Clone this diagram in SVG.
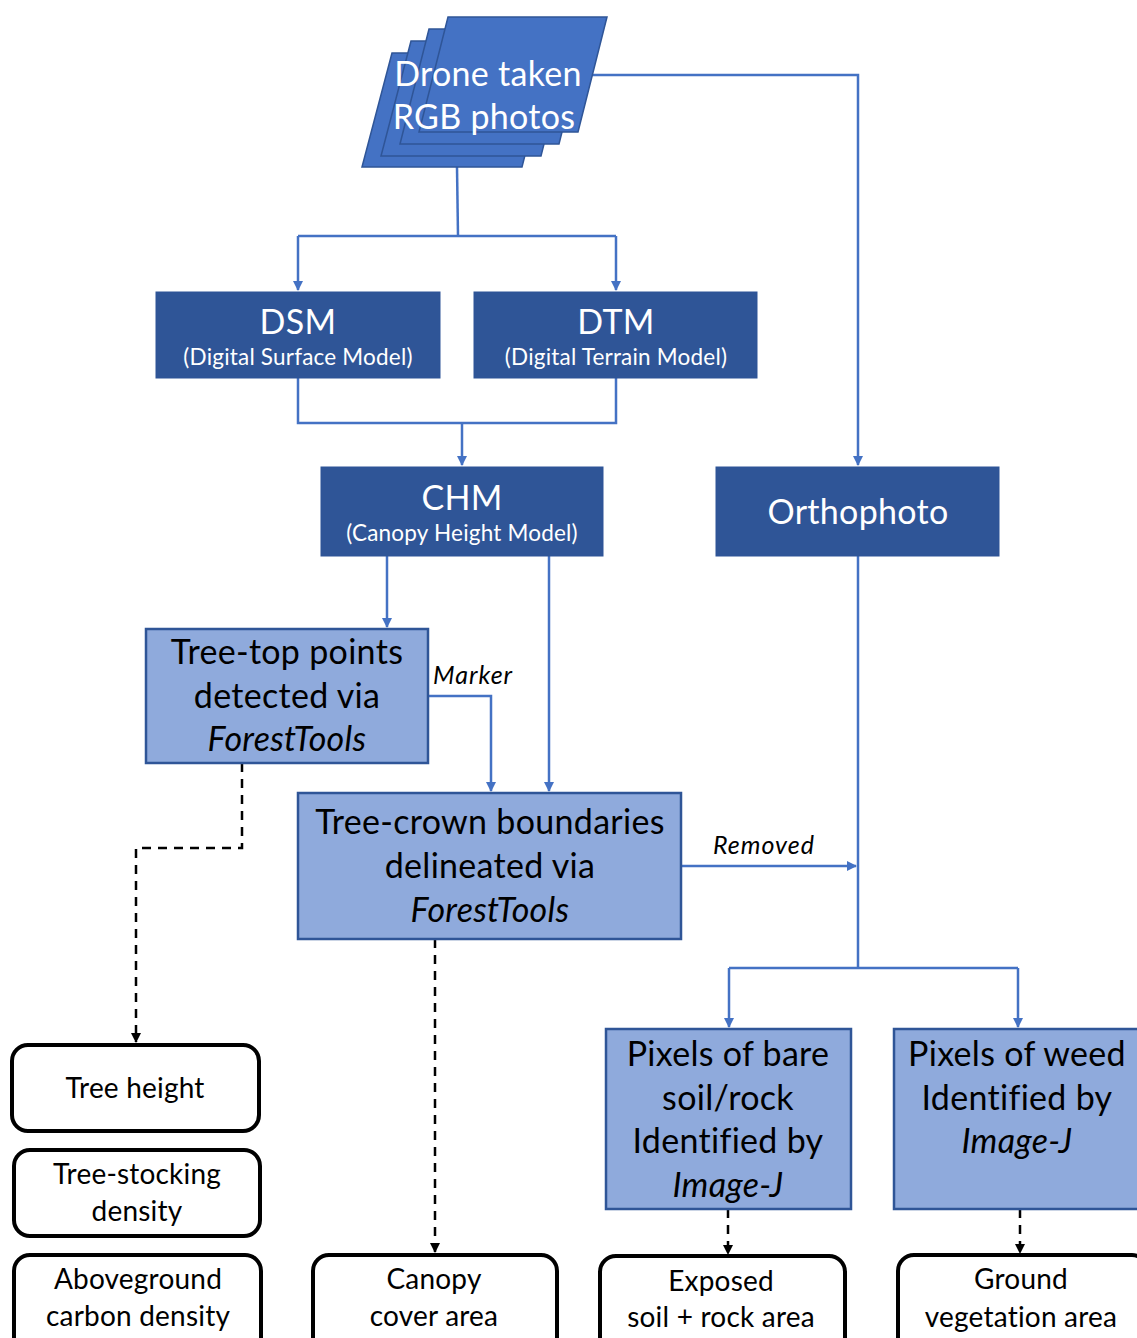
<svg xmlns="http://www.w3.org/2000/svg" width="1137" height="1338" viewBox="0 0 1137 1338">
<defs>
<marker id="ab" markerWidth="10" markerHeight="10" refX="9" refY="5" orient="auto" markerUnits="userSpaceOnUse"><path d="M0,0 L10,5 L0,10 Z" fill="#4472C4"/></marker>
<marker id="ak" markerWidth="10" markerHeight="10" refX="9" refY="5" orient="auto" markerUnits="userSpaceOnUse"><path d="M0,0 L10,5 L0,10 Z" fill="#000"/></marker>
</defs>
<style>
text{font-family:Lato,"Open Sans","Liberation Sans",sans-serif;text-anchor:middle}
.sheet{fill:#4472C4;stroke:#2F5597;stroke-width:1.5}
.dark{fill:#2F5597;stroke:#2F5597;stroke-width:1}
.light{fill:#8FAADC;stroke:#2F5597;stroke-width:2.5}
.res{fill:#fff;stroke:#000;stroke-width:4}
.w{fill:#fff}
.big{font-size:34px;letter-spacing:0.3px}
.sub{font-size:22.5px;letter-spacing:0.2px}
.mid{font-size:34px;letter-spacing:0.3px;fill:#000}
.out{font-size:28px;letter-spacing:0.2px;fill:#000}
.lab{font-size:25px;letter-spacing:1px;font-style:italic;fill:#000;text-anchor:start}
.it{font-style:italic}
.bl{fill:none;stroke:#4472C4;stroke-width:2.5}
.dk{fill:none;stroke:#000;stroke-width:2.5;stroke-dasharray:9,7}
</style>
<g id="connectors">
<path class="bl" d="M592,75 H858 V465" marker-end="url(#ab)"/>
<path class="bl" d="M457,167 L458,236"/>
<path class="bl" d="M298,236 H616"/>
<path class="bl" d="M298,236 V290" marker-end="url(#ab)"/>
<path class="bl" d="M616,236 V290" marker-end="url(#ab)"/>
<path class="bl" d="M298,378 V423 H616 V378"/>
<path class="bl" d="M462,423 V465" marker-end="url(#ab)"/>
<path class="bl" d="M387,556 V627" marker-end="url(#ab)"/>
<path class="bl" d="M549,556 V791" marker-end="url(#ab)"/>
<path class="bl" d="M428,696 H491 V791" marker-end="url(#ab)"/>
<path class="bl" d="M681,866 H856" marker-end="url(#ab)"/>
<path class="bl" d="M858,556 V968"/>
<path class="bl" d="M729,968 H1018"/>
<path class="bl" d="M729,968 V1027" marker-end="url(#ab)"/>
<path class="bl" d="M1018,968 V1027" marker-end="url(#ab)"/>
<path class="dk" d="M242,763 V848 H136 V1042" marker-end="url(#ak)"/>
<path class="dk" d="M435,939 V1252" marker-end="url(#ak)"/>
<path class="dk" d="M728,1209 V1254" marker-end="url(#ak)"/>
<path class="dk" d="M1020,1209 V1253" marker-end="url(#ak)"/>
<text class="lab" x="433" y="684">Marker</text>
<text class="lab" x="713" y="854">Removed</text>
</g>
<g id="photos">
<polygon class="sheet" points="392,53 551,53 522,167 362,167"/>
<polygon class="sheet" points="411,41 570,41 541,156 381,156"/>
<polygon class="sheet" points="429,29 588,29 559,144 400,144"/>
<polygon class="sheet" points="448,17 607,17 578,132 419,132"/>
<text class="big w" x="488" y="86">Drone taken</text>
<text class="big w" x="484" y="129">RGB photos</text>
</g>
<g id="dsm">
<rect class="dark" x="156" y="292" width="284" height="86"/>
<text class="big w" x="298" y="334">DSM</text>
<text class="sub w" x="298" y="365">(Digital Surface Model)</text>
</g>
<g id="dtm">
<rect class="dark" x="474" y="292" width="283" height="86"/>
<text class="big w" x="616" y="334">DTM</text>
<text class="sub w" x="616" y="365">(Digital Terrain Model)</text>
</g>
<g id="chm">
<rect class="dark" x="321" y="467" width="282" height="89"/>
<text class="big w" x="462" y="510">CHM</text>
<text class="sub w" x="462" y="541">(Canopy Height Model)</text>
</g>
<g id="ortho">
<rect class="dark" x="716" y="467" width="283" height="89"/>
<text class="big w" x="858" y="524">Orthophoto</text>
</g>
<g id="treetop">
<rect class="light" x="146" y="629" width="282" height="134"/>
<text class="mid" x="287" y="664">Tree-top points</text>
<text class="mid" x="287" y="708">detected via</text>
<text class="mid it" x="287" y="751">ForestTools</text>
</g>
<g id="crown">
<rect class="light" x="298" y="793" width="383" height="146"/>
<text class="mid" x="490" y="834">Tree-crown boundaries</text>
<text class="mid" x="490" y="878">delineated via</text>
<text class="mid it" x="490" y="922">ForestTools</text>
</g>
<g id="bare">
<rect class="light" x="606" y="1029" width="245" height="180"/>
<text class="mid" x="728" y="1066">Pixels of bare</text>
<text class="mid" x="728" y="1110">soil/rock</text>
<text class="mid" x="728" y="1153">Identified by</text>
<text class="mid it" x="728" y="1197">Image-J</text>
</g>
<g id="weed">
<rect class="light" x="894" y="1029" width="250" height="180"/>
<text class="mid" x="1017" y="1066">Pixels of weed</text>
<text class="mid" x="1017" y="1110">Identified by</text>
<text class="mid it" x="1017" y="1153">Image-J</text>
</g>
<g id="height">
<rect class="res" x="12" y="1045" width="247" height="86" rx="16"/>
<text class="out" x="135" y="1098">Tree height</text>
</g>
<g id="stocking">
<rect class="res" x="14" y="1150" width="246" height="86" rx="16"/>
<text class="out" x="137" y="1184">Tree-stocking</text>
<text class="out" x="137" y="1221">density</text>
</g>
<g id="carbon">
<rect class="res" x="14" y="1255" width="247" height="100" rx="16"/>
<text class="out" x="138" y="1289">Aboveground</text>
<text class="out" x="138" y="1326">carbon density</text>
</g>
<g id="canopy">
<rect class="res" x="313" y="1255" width="244" height="100" rx="16"/>
<text class="out" x="434" y="1289">Canopy</text>
<text class="out" x="434" y="1326">cover area</text>
</g>
<g id="exposed">
<rect class="res" x="600" y="1256" width="245" height="100" rx="16"/>
<text class="out" x="721" y="1291">Exposed</text>
<text class="out" x="721" y="1327">soil + rock area</text>
</g>
<g id="ground">
<rect class="res" x="898" y="1255" width="250" height="100" rx="16"/>
<text class="out" x="1021" y="1289">Ground</text>
<text class="out" x="1021" y="1327">vegetation area</text>
</g>
</svg>
